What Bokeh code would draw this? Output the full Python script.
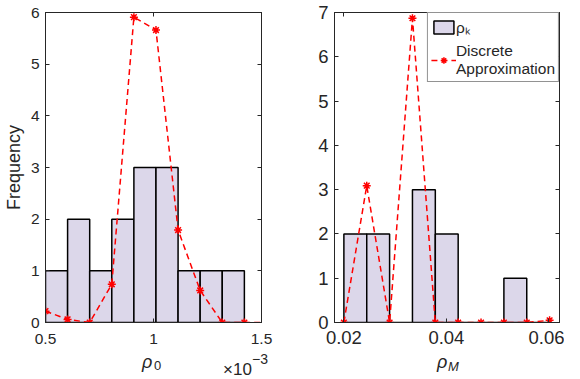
from bokeh.plotting import figure
from bokeh.layouts import row, column
from bokeh.models import (Range1d, FixedTicker, LinearAxis, Legend, Div,
                          LegendItem, CustomJSTickFormatter, ColumnDataSource)
from bokeh.embed import file_html
from bokeh.resources import INLINE

# ---------------- data ----------------
# left panel: rho_0 histogram (values in absolute units, axis shown x 1e-3)
rho0_edges = [0.0005, 0.0006023, 0.0007046, 0.0008069, 0.0009092, 0.0010115,
              0.0011138, 0.0012161, 0.0013184, 0.0014207]
rho0_counts = [1, 2, 1, 2, 3, 3, 1, 1, 1]
rho0_approx_x = [0.0005, 0.0006023, 0.0007046, 0.0008069, 0.0009092,
                 0.0010115, 0.0011138, 0.0012161, 0.0013184, 0.0014207,
                 0.001523]
rho0_approx_y = [0.22, 0.06, 0.0, 0.74, 5.91, 5.66, 1.79, 0.62, 0.0, 0.0, 0.0]

# right panel: rho_M histogram
rhoM_edges = [0.02, 0.02446, 0.02892, 0.03338, 0.03784, 0.0423,
              0.04676, 0.05122, 0.05568, 0.06014]
rhoM_counts = [2, 2, 0, 3, 2, 0, 0, 1, 0]
rhoM_approx_x = [0.02, 0.02446, 0.02892, 0.03338, 0.03784, 0.0423,
                 0.04676, 0.05122, 0.05568, 0.06014]
rhoM_approx_y = [0.0, 3.09, 0.0, 6.87, 0.0, 0.0, 0.0, 0.0, 0.0, 0.05]

left_xticks = [0.0005, 0.001, 0.0015]
left_yticks = [0, 1, 2, 3, 4, 5, 6]
right_xticks = [0.02, 0.04, 0.06]
right_yticks = [0, 1, 2, 3, 4, 5, 6, 7]

FONT = "Liberation Sans"
AX = "#262626"
FILL = "#DCD7EA"
RED = "#FF0000"
FIG_H = 352


def style_axis(ax, ticker, size=None, standoff=6):
    ax.ticker = FixedTicker(ticks=ticker)
    ax.major_tick_in = 4
    ax.major_tick_out = 0
    ax.minor_tick_line_color = None
    ax.axis_line_color = AX
    ax.axis_line_width = 1
    ax.major_tick_line_color = AX
    ax.major_label_text_font = FONT
    ax.major_label_text_color = AX
    if size is not None:
        ax.major_label_text_font_size = size
        ax.major_label_standoff = standoff
    else:
        ax.formatter = CustomJSTickFormatter(code="return '';")
        ax.major_label_standoff = 0


def make_fig(width, xr, yr, mbl, mbr):
    p = figure(width=width, height=FIG_H, x_range=xr, y_range=yr,
               output_backend="svg", toolbar_location=None,
               min_border_left=mbl, min_border_right=mbr,
               min_border_top=12, min_border_bottom=30)
    p.grid.grid_line_color = None
    p.outline_line_color = AX
    p.outline_line_width = 1
    p.background_fill_color = "white"
    p.border_fill_color = "white"
    return p


# ---------------- left figure ----------------
p1 = make_fig(282, Range1d(0.0005, 0.0015), Range1d(0, 6), 37, 21)
src1 = ColumnDataSource(dict(left=rho0_edges[:-1], right=rho0_edges[1:],
                             top=rho0_counts, bottom=[0] * len(rho0_counts)))
p1.quad(left="left", right="right", top="top", bottom="bottom", source=src1,
        fill_color=FILL, line_color="black", line_width=1.5)
p1.line(rho0_approx_x, rho0_approx_y, line_color=RED, line_dash="6 4",
        line_width=1.5)
p1.scatter(rho0_approx_x, rho0_approx_y, marker="asterisk", size=8,
           line_color=RED, line_width=1.5)
style_axis(p1.xaxis[0], left_xticks, "15.5px", 11)
p1.xaxis[0].formatter = CustomJSTickFormatter(
    code="return String(Math.round(tick*1e4)/10);")
style_axis(p1.yaxis[0], left_yticks, "15.5px", 6)
p1.yaxis[0].axis_label = "Frequency"
p1.yaxis[0].axis_label_text_font = FONT
p1.yaxis[0].axis_label_text_font_size = "18px"
p1.yaxis[0].axis_label_text_font_style = "normal"
p1.yaxis[0].axis_label_text_color = AX
p1.yaxis[0].axis_label_standoff = 4
ra = LinearAxis()
style_axis(ra, left_yticks)
p1.add_layout(ra, "right")
ta = LinearAxis()
style_axis(ta, left_xticks)
p1.add_layout(ta, "above")

# ---------------- right figure ----------------
p2 = make_fig(282, Range1d(0.01817, 0.06207), Range1d(0, 7), 52, 5)
src2 = ColumnDataSource(dict(left=rhoM_edges[:-1], right=rhoM_edges[1:],
                             top=rhoM_counts, bottom=[0] * len(rhoM_counts)))
bars2 = p2.quad(left="left", right="right", top="top", bottom="bottom",
                source=src2, fill_color=FILL, line_color="black",
                line_width=1.5)
line2 = p2.line(rhoM_approx_x, rhoM_approx_y, line_color=RED, line_dash="6 4",
                line_width=1.5)
mark2 = p2.scatter(rhoM_approx_x, rhoM_approx_y, marker="asterisk", size=8,
                   line_color=RED, line_width=1.5)
style_axis(p2.xaxis[0], right_xticks, "18.5px", 8)
style_axis(p2.yaxis[0], right_yticks, "18.5px", 6)
ra2 = LinearAxis()
style_axis(ra2, right_yticks)
p2.add_layout(ra2, "right")
ta2 = LinearAxis()
style_axis(ta2, right_xticks)
p2.add_layout(ta2, "above")

legend = Legend(items=[LegendItem(label="ρₖ", renderers=[bars2]),
                       LegendItem(label="Discrete\nApproximation",
                                  renderers=[line2, mark2])],
                location="top_right", margin=0, padding=3, spacing=4,
                glyph_width=25, glyph_height=16, label_standoff=0,
                label_text_font=FONT, label_text_font_size="15.5px",
                label_text_line_height=1.2,
                label_text_color=AX, border_line_color=AX,
                border_line_width=1, background_fill_alpha=1)
p2.add_layout(legend)


# ---------------- axis-label strip (real HTML text) ----------------
def span(left, top, size, content, italic=False):
    style = ("position:absolute;left:%spx;top:%spx;font-size:%spx;"
             "line-height:0;white-space:nowrap;%s"
             % (left, top, size, "font-style:italic;" if italic else ""))
    return '<span style="%s">%s</span>' % (style, content)


strip = ('<div style="position:relative;width:564px;height:27px;'
         "font-family:'Liberation Sans',Arial,sans-serif;color:%s;\">" % AX
         + span(137, 5.3, 18, "ρ", True)
         + span(149, 8.5, 13, "0")
         + span(218, 13.3, 17, "×10")
         + span(247, 1.5, 14, "−3")
         + span(432, 4.8, 18, "ρ", True)
         + span(443, 10.0, 13, "M", True)
         + "</div>")
labels = Div(text=strip, width=564, height=27)

layout = column(row(p1, p2), labels)
open("out.html", "w").write(file_html(layout, INLINE))
